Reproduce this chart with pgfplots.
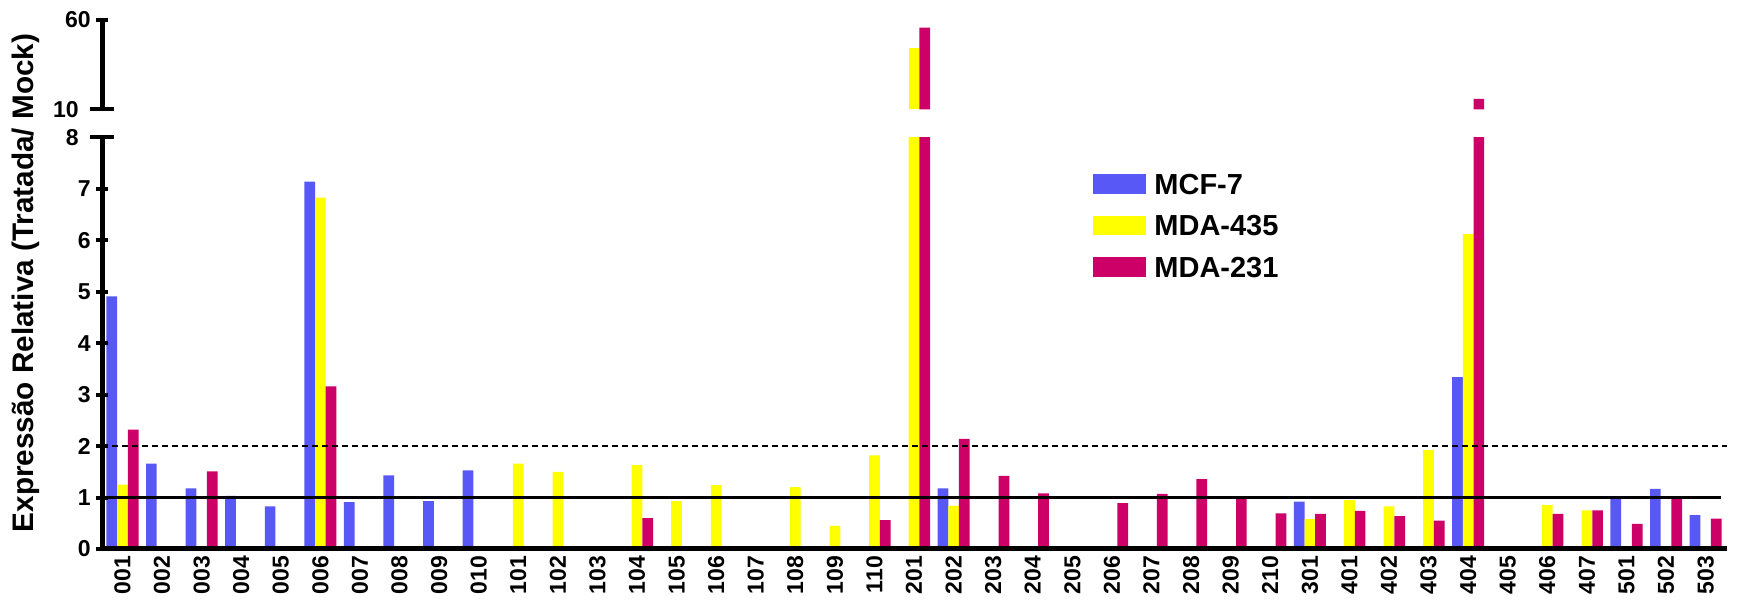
\documentclass[border=0pt]{standalone}
\usepackage{pgfplots}
\pgfplotsset{compat=1.18}
\usepackage{pgfplotstable}
\usepackage{fontspec}
\setmainfont{Liberation Sans}
\definecolor{cmcf}{RGB}{88,88,246}
\definecolor{cyel}{RGB}{255,255,0}
\definecolor{cmag}{RGB}{204,0,102}

\pgfplotstableread{
x mcf m435 m231
0 4.91 1.25 2.32
1 1.66 nan nan
2 1.18 nan 1.51
3 1.03 nan nan
4 0.83 nan nan
5 7.14 6.83 3.16
6 0.91 nan nan
7 1.43 nan nan
8 0.93 nan nan
9 1.53 nan nan
10 nan 1.66 nan
11 nan 1.50 nan
12 nan nan nan
13 nan 1.63 0.60
14 nan 0.93 nan
15 nan 1.24 nan
16 nan nan nan
17 nan 1.20 nan
18 nan 0.45 nan
19 nan 1.82 0.56
20 nan 44.2 55.7
21 1.18 0.84 2.14
22 nan nan 1.42
23 nan nan 1.08
24 nan nan nan
25 nan nan 0.89
26 nan nan 1.07
27 nan nan 1.36
28 nan nan 1.01
29 nan nan 0.69
30 0.92 0.58 0.68
31 nan 0.95 0.74
32 nan 0.83 0.64
33 nan 1.92 0.55
34 3.34 6.12 15.8
35 nan nan nan
36 nan 0.85 0.68
37 nan 0.75 0.75
38 0.98 nan 0.49
39 1.17 nan 0.98
40 0.66 nan 0.59
}\datatable

\pgfplotsset{
  brk/.style={
    scale only axis, width=812.35pt,
    xmin=-0.51, xmax=40.54,
    ybar=0pt, bar width=5.35pt,
    axis on top,
    every tick/.style={black, line width=2pt},
    major tick length=6pt, tick align=outside,
    yticklabel style={font=\bfseries\fontsize{11.5}{12}\selectfont, inner sep=0pt},
    /pgf/number format/assume math mode=true,
    yticklabel shift=2.65pt,
    legend image code/.code={\fill[##1] (0pt,-4.875pt) rectangle (26.5pt,4.875pt);},
  },
  nolinearrows/.style={
    axis line style={line width=2.5pt, -},
    x axis line style={-}, y axis line style={-},
    every outer x axis line/.append style={-},
    every outer y axis line/.append style={-},
    every inner x axis line/.append style={-},
    every inner y axis line/.append style={-},
  },
}

\begin{document}
\begin{tikzpicture}
\useasboundingbox (0,0) rectangle (868.5pt,304pt);

% lower segment
\begin{axis}[brk, at={(51.15pt,29.5pt)}, anchor=south west, height=205.85pt,
  ymin=0, ymax=8, ytick={0,1,...,7},
  extra y ticks={8}, extra y tick style={tick align=center, major tick length=12pt, yticklabel style={xshift=-3pt}},
  axis x line=bottom, axis y line=left, nolinearrows,
  xtick={0,...,40},
  xticklabels={001,002,003,004,005,006,007,008,009,010,101,102,103,104,105,106,107,108,109,110,201,202,203,204,205,206,207,208,209,210,301,401,402,403,404,405,406,407,501,502,503},
  xtick style={draw=none},
  xticklabel style={rotate=90, anchor=east, font=\bfseries\fontsize{11.5}{12}\selectfont, inner sep=0pt},
  xticklabel shift=0.4pt,
  legend style={at={(axis description cs:0.6096,0.9126)}, anchor=north west, draw=none, fill=none,
    inner sep=0pt, outer sep=0pt, row sep=10.25pt, column sep=4.35pt,
    font=\bfseries\fontsize{14.5}{16}\selectfont,
    nodes={inner sep=0pt, text height=10.5pt, text depth=0pt}},
  legend cell align=left,
]
\addplot[fill=cmcf, draw=none] table[x=x, y=mcf]{\datatable};
\addplot[fill=cyel, draw=none] table[x=x, y=m435]{\datatable};
\addplot[fill=cmag, draw=none] table[x=x, y=m231]{\datatable};
\legend{MCF-7, MDA-435, MDA-231}
\end{axis}

% upper segment
\begin{axis}[brk, at={(51.15pt,249.35pt)}, anchor=south west, height=44.65pt,
  ymin=10, ymax=60, ytick={60},
  extra y ticks={10}, extra y tick style={tick align=center, major tick length=12pt, yticklabel style={xshift=-3pt}},
  axis x line=none, axis y line=left, nolinearrows, xtick=\empty,
]
\addplot[fill=cmcf, draw=none, restrict y to domain=10:100] table[x=x, y=mcf]{\datatable};
\addplot[fill=cyel, draw=none, restrict y to domain=10:100] table[x=x, y=m435]{\datatable};
\addplot[fill=cmag, draw=none, restrict y to domain=10:100] table[x=x, y=m231]{\datatable};
\end{axis}

% reference lines
\begin{axis}[scale only axis, width=812.35pt, height=205.85pt,
  at={(51.15pt,29.5pt)}, anchor=south west,
  xmin=-0.51, xmax=40.54, ymin=0, ymax=8, hide axis]
\addplot[black, line width=1.5pt] coordinates {(-0.51,1) (40.4,1)};
\addplot[black, line width=0.6pt, dash pattern=on 3pt off 2pt] coordinates {(-0.51,2) (40.54,2)};
\end{axis}

\node[rotate=90, font=\bfseries\fontsize{14.85}{16}\selectfont] at (12.9pt,162.5pt) {Expressão Relativa (Tratada/ Mock)};
\end{tikzpicture}
\end{document}
